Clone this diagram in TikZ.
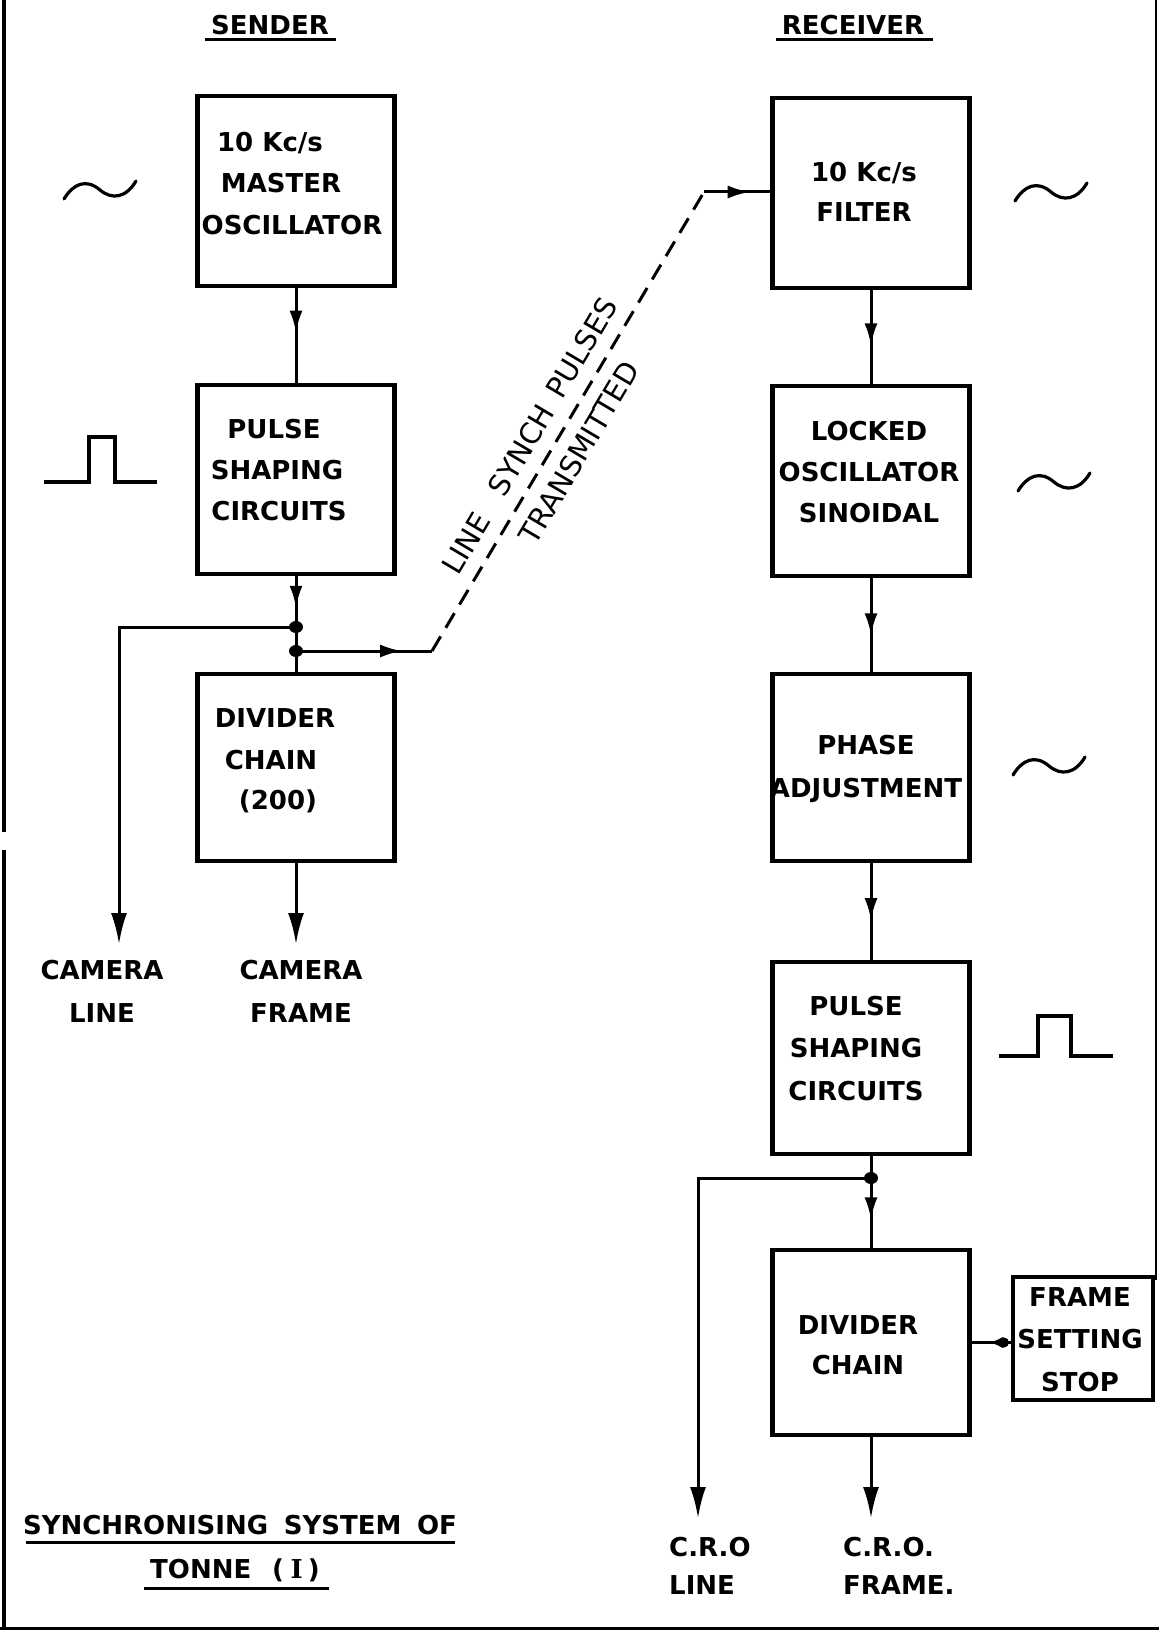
\documentclass[tikz,border=0pt]{standalone}
\usepackage{fontspec}
\setmainfont{DejaVu Sans}
\newfontfamily\serifI{DejaVu Serif}
\usetikzlibrary{arrows.meta,decorations.markings}
\begin{document}
\begin{tikzpicture}[x=1pt,y=-1pt,
  blk/.style={draw, line width=4.5pt, minimum width=197pt, inner sep=0pt},
  txt/.style={font=\fontsize{26}{#1}\selectfont\bfseries, align=center, inner sep=0pt},
  txt/.default=36,
  lab/.style={font=\fontsize{29}{34}\selectfont, inner sep=0pt},
  conn/.style={line width=3pt},
  midarr/.style={postaction={decorate}, decoration={markings, mark=at position #1 with {\arrow{Latex[length=22pt,width=13pt]}}}},
  endarr/.style={-{Latex[length=31pt,width=16pt]}},
  wave/.style={line width=3.2pt, line cap=round},
  sinew/.pic={\draw[wave] (-36,9) .. controls (-27,-6) and (-14,-12) .. (0,0) .. controls (12,10) and (26,8) .. (36,-9);},
  jdot/.style={fill=black}
]
\useasboundingbox (0,0) rectangle (1159,1632);

% borders
\draw[line width=3.5pt] (4,0) -- (4,832);
\draw[line width=3.5pt] (4,850) -- (4,1628);
\draw[line width=3pt] (0,1628) -- (1159,1628);
\draw[line width=2.5pt] (1156,0) -- (1156,1280);

% headers
\node[txt] (snd) at (270,25) {SENDER};
\draw[line width=3pt] (205,40) -- (336,40);
\node[txt] (rcv) at (853,25) {RECEIVER};
\draw[line width=3pt] (776,40) -- (933,40);

% sender boxes
\node[blk, minimum height=190pt] (M) at (296,191) {};
\node[txt] (Mt1) at (270,143) {10 Kc/s};
\node[txt] (Mt2) at (281,183) {MASTER};
\node[txt] (Mt3) at (292,225) {OSCILLATOR};
\node[blk, minimum height=189pt] (P) at (296,479.5) {};
\node[txt] (Pt1) at (274,429) {PULSE};
\node[txt] (Pt2) at (277,470) {SHAPING};
\node[txt] (Pt3) at (279,511) {CIRCUITS};
\node[blk, minimum height=187pt] (D) at (296,767.5) {};
\node[txt] (Dt1) at (275,718) {DIVIDER};
\node[txt] (Dt2) at (271,760) {CHAIN};
\node[txt] (Dt3) at (278,801) {(200)};

% receiver boxes
\node[blk, minimum height=190pt] (R1) at (871,193) {};
\node[txt=40] (R1t) at (864,192) {10 Kc/s\\FILTER};
\node[blk, minimum height=190pt] (R2) at (871,481) {};
\node[txt=41] (R2t) at (869,472) {LOCKED\\OSCILLATOR\\SINOIDAL};
\node[blk, minimum height=187pt] (R3) at (871,767.5) {};
\node[txt=43] (R3t) at (866,768.5) {PHASE\\ADJUSTMENT};
\node[blk, minimum height=192pt] (R4) at (871,1058) {};
\node[txt=42.5] (R4t) at (856,1048.5) {PULSE\\SHAPING\\CIRCUITS};
\node[blk, minimum height=185pt] (R5) at (871,1342.5) {};
\node[txt=40] (R5t) at (858,1345) {DIVIDER\\CHAIN};
\node[blk, minimum width=140pt, minimum height=123pt] (F) at (1083,1338.5) {};
\node[txt=42.5] (Ft) at (1080,1339.5) {FRAME\\SETTING\\STOP};

% waveforms
\pic at (100,190) {sinew};
\pic at (1051,192) {sinew};
\pic at (1054,482) {sinew};
\pic at (1049,766) {sinew};
\draw[wave, line cap=butt] (44,482) -- (89,482) -- (89,437) -- (115,437) -- (115,482) -- (157,482);
\draw[wave, line cap=butt] (999,1056) -- (1038,1056) -- (1038,1016) -- (1071,1016) -- (1071,1056) -- (1113,1056);

% sender connectors
\coordinate (d1) at (296,627);
\coordinate (d2) at (296,651);
\coordinate (bend) at (432,651);
\coordinate (top) at (704,192);
\coordinate (camL) at (119,944);
\coordinate (camF) at (296,944);
\draw[conn, midarr=0.47] (M.south) -- (P.north);
\draw[conn, midarr=0.33] (P.south) -- (D.north);
\fill[jdot] (d1) ellipse [x radius=7pt, y radius=6pt];
\fill[jdot] (d2) ellipse [x radius=7pt, y radius=6pt];
\draw[conn, endarr] (d1) -| (camL);
\draw[conn, endarr] (D.south) -- (camF);
\draw[conn, midarr=0.78] (d2) -- (bend);
\draw[conn, dash pattern=on 17pt off 10pt] (bend) --
  node[lab, sloped, pos=0.44, above=13pt] (ls) {LINE\hspace{26pt}SYNCH\hspace{14pt}PULSES}
  node[lab, sloped, pos=0.46, below=13pt] (lt) {TRANSMITTED} (top);
\draw[conn, midarr=0.69] (top) -- (top -| R1.west);

\node[txt=43] (cl) at (102,991) {CAMERA\\LINE};
\node[txt=43] (cf) at (301,991) {CAMERA\\FRAME};

% receiver connectors
\coordinate (d3) at (871,1178);
\coordinate (croL) at (698,1518);
\coordinate (croF) at (871,1518);
\draw[conn, midarr=0.59] (R1.south) -- (R2.north);
\draw[conn, midarr=0.61] (R2.south) -- (R3.north);
\draw[conn, midarr=0.59] (R3.south) -- (R4.north);
\draw[conn, midarr=0.69] (R4.south) -- (R5.north);
\fill[jdot] (d3) ellipse [x radius=7pt, y radius=6pt];
\draw[conn, endarr] (d3) -| (croL);
\draw[conn, endarr] (R5.south) -- (croF);
\draw[conn, postaction={decorate}, decoration={markings, mark=at position 0.55 with {\arrow{Latex[length=14pt,width=12pt]}}}] (F.west |- R5.east) -- (R5.east);
\fill[jdot] (1004,1342.5) circle [radius=5pt];

\node[txt=38, align=left, anchor=west] (crl) at (669,1566) {C.R.O\\LINE};
\node[txt=38, align=left, anchor=west] (crf) at (843,1566) {C.R.O.\\FRAME.};

% title
\node[txt] (t1) at (240,1525) {SYNCHRONISING\hspace{0.6em}SYSTEM\hspace{0.6em}OF};
\draw[line width=3pt] (26,1542) -- (455,1542);
\node[txt] (t2) at (235,1570) {TONNE\hspace{0.8em}(\hspace{0.25em}{\serifI I}\hspace{0.2em})};
\draw[line width=3pt] (144,1588) -- (329,1588);
\end{tikzpicture}
\end{document}
